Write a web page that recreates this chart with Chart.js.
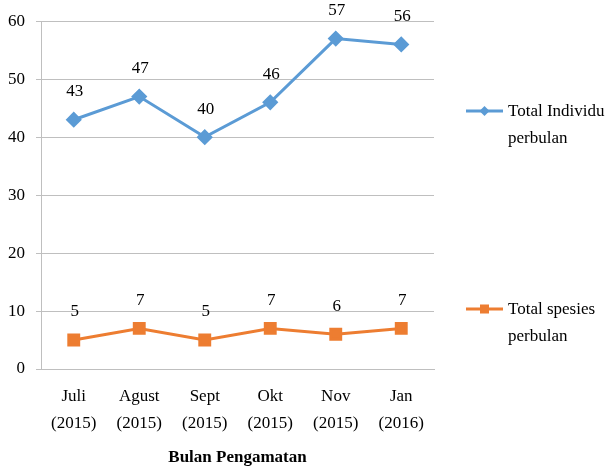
<!DOCTYPE html>
<html>
<head>
<meta charset="utf-8">
<script src="https://cdn.jsdelivr.net/npm/chart.js@4.4.0/dist/chart.umd.min.js"></script>
<style>
  html, body { margin: 0; padding: 0; background: #fff; }
  #wrap { width: 606px; height: 468px; position: relative; }
</style>
</head>
<body>
<div id="wrap"><canvas id="c" width="606" height="468"></canvas></div>
<script>
const categories = [["Juli", "(2015)"], ["Agust", "(2015)"], ["Sept", "(2015)"], ["Okt", "(2015)"], ["Nov", "(2015)"], ["Jan", "(2016)"]];
const totalIndividu = [43, 47, 40, 46, 57, 56];
const totalSpesies = [5, 7, 5, 7, 6, 7];
const seriesNames = [["Total Individu", "perbulan"], ["Total spesies", "perbulan"]];
const yTicks = [0, 10, 20, 30, 40, 50, 60];
const xTitle = "Bulan Pengamatan";

const FONT = "'Liberation Serif', 'Times New Roman', serif";
const FS = 17;
const BLUE = "#5B9BD5";
const ORANGE = "#ED7D31";
const GRID = "#BFBFBF";

const valueLabels = {
  id: 'valueLabels',
  afterDatasetsDraw(chart) {
    const ctx = chart.ctx;
    ctx.save();
    ctx.font = FS + "px " + FONT;
    ctx.fillStyle = "#000";
    ctx.textAlign = "center";
    ctx.textBaseline = "middle";
    chart.data.datasets.forEach((ds, i) => {
      const meta = chart.getDatasetMeta(i);
      meta.data.forEach((pt, j) => {
        ctx.fillText(String(ds.data[j]), pt.x + 1, pt.y - 28);
      });
    });
    ctx.restore();
  }
};

const sideLegend = {
  id: 'sideLegend',
  afterDraw(chart) {
    const ctx = chart.ctx;
    const rows = [111, 309];
    ctx.save();
    chart.data.datasets.forEach((ds, i) => {
      const y = rows[i];
      ctx.strokeStyle = ds.borderColor;
      ctx.lineWidth = 3;
      ctx.beginPath();
      ctx.moveTo(466, y);
      ctx.lineTo(503, y);
      ctx.stroke();
      ctx.fillStyle = ds.borderColor;
      const cx = 484.5;
      if (ds.pointStyle === 'rectRot') {
        ctx.beginPath();
        ctx.moveTo(cx, y - 5);
        ctx.lineTo(cx + 5, y);
        ctx.lineTo(cx, y + 5);
        ctx.lineTo(cx - 5, y);
        ctx.closePath();
        ctx.fill();
      } else {
        ctx.fillRect(cx - 4.5, y - 4.5, 9, 9);
      }
      ctx.fillStyle = "#000";
      ctx.font = FS + "px " + FONT;
      ctx.textAlign = "left";
      ctx.textBaseline = "middle";
      const lines = seriesNames[i];
      ctx.fillText(lines[0], 508, y + 1);
      ctx.fillText(lines[1], 508, y + 28);
    });
    ctx.restore();
  }
};

new Chart(document.getElementById('c'), {
  type: 'line',
  data: {
    labels: categories,
    datasets: [
      {
        label: seriesNames[0].join(' '),
        data: totalIndividu,
        borderColor: BLUE,
        backgroundColor: BLUE,
        borderWidth: 3,
        pointStyle: 'rectRot',
        pointRadius: 6,
        pointHoverRadius: 6,
        tension: 0
      },
      {
        label: seriesNames[1].join(' '),
        data: totalSpesies,
        borderColor: ORANGE,
        backgroundColor: ORANGE,
        borderWidth: 3,
        pointStyle: 'rect',
        pointRadius: 7,
        pointHoverRadius: 7,
        tension: 0
      }
    ]
  },
  options: {
    responsive: false,
    animation: false,
    devicePixelRatio: 1,
    layout: { padding: { top: 20, right: 172, left: 0, bottom: 0 } },
    plugins: {
      legend: { display: false },
      tooltip: { enabled: false }
    },
    scales: {
      x: {
        offset: true,
        grid: { display: false, drawTicks: false },
        border: { display: true, color: GRID, width: 1 },
        ticks: {
          color: "#000",
          font: { family: FONT, size: FS, lineHeight: 27 / FS },
          padding: 14,
          maxRotation: 0,
          autoSkip: false
        },
        title: {
          display: true,
          text: xTitle,
          color: "#000",
          font: { family: FONT, size: FS, weight: 'bold' },
          padding: { top: 0, bottom: 0 }
        },
        afterFit(scale) { scale.height = 99; }
      },
      y: {
        min: 0,
        max: 60,
        afterBuildTicks(scale) { scale.ticks = yTicks.map(v => ({ value: v })); },
        grid: { color: GRID, lineWidth: 1, drawTicks: true, tickLength: 5 },
        border: { display: true, color: GRID, width: 1 },
        ticks: {
          color: "#000",
          font: { family: FONT, size: FS },
          padding: 11
        },
        afterFit(scale) { scale.width = 41; }
      }
    }
  },
  plugins: [valueLabels, sideLegend]
});
</script>
</body>
</html>
